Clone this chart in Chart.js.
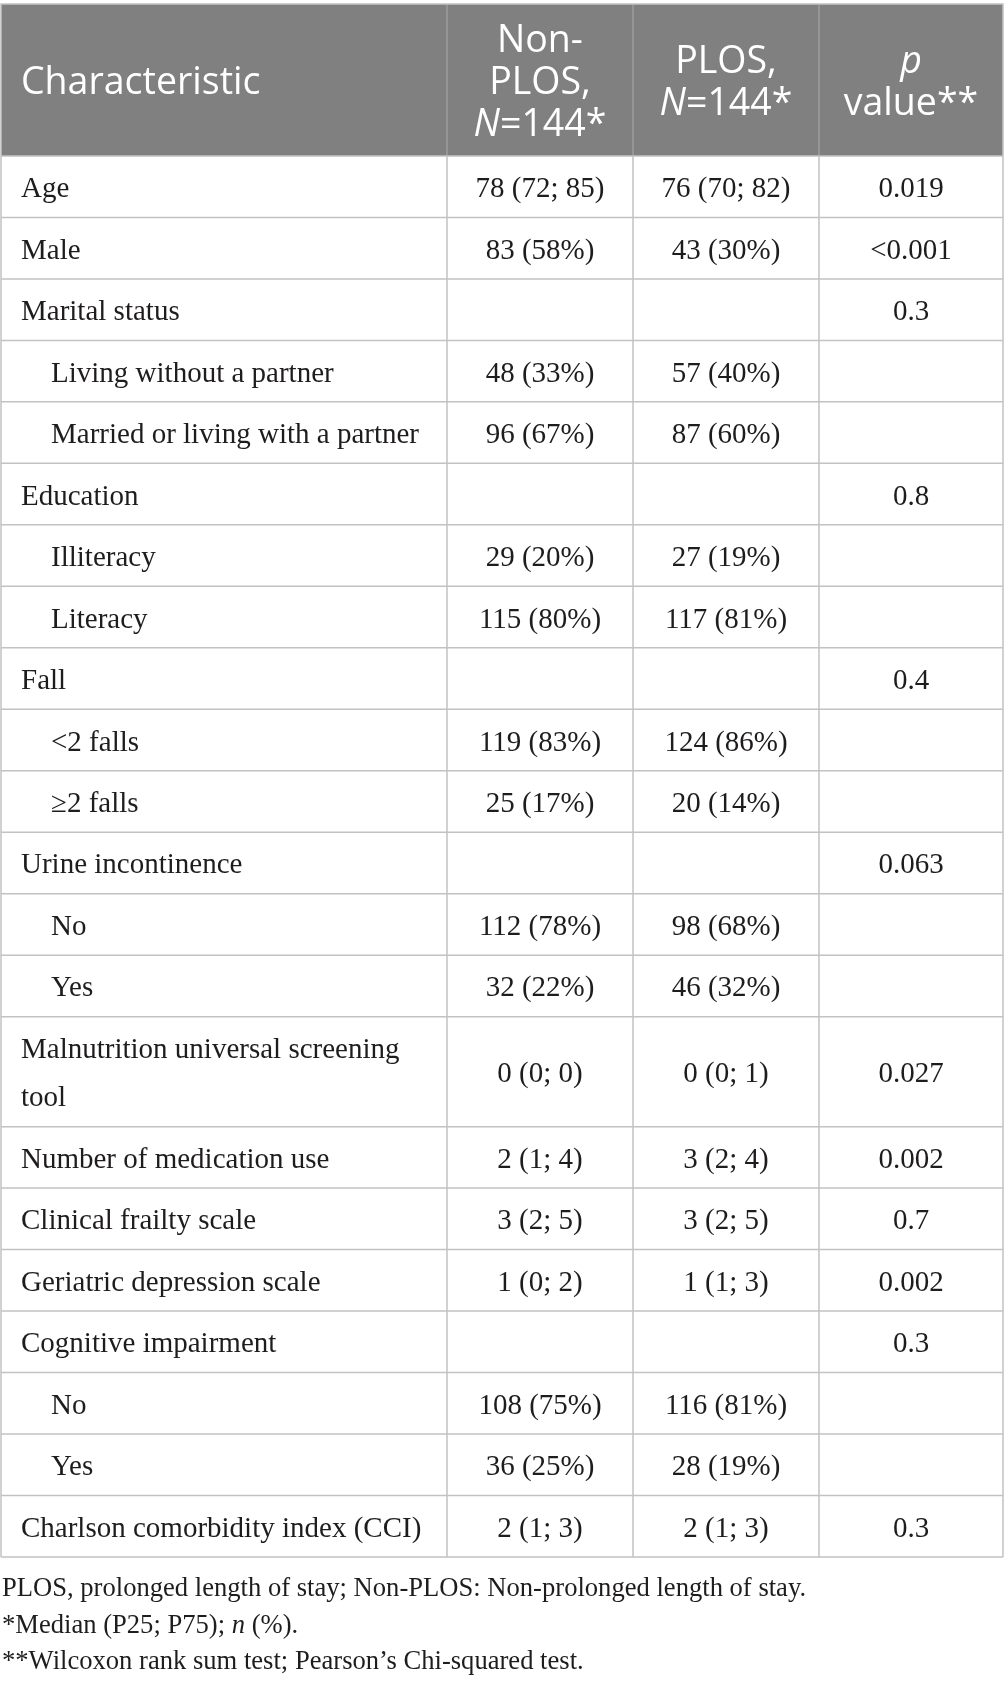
<!DOCTYPE html>
<html>
<head>
<meta charset="utf-8">
<title>PLOS vs Non-PLOS characteristics</title>
<script src="https://cdn.jsdelivr.net/npm/chart.js@4.4.1/dist/chart.umd.min.js"></script>
<style>
  html, body { margin: 0; padding: 0; background: #fff; }
  canvas { display: block; }
</style>
</head>
<body>
<canvas id="table" width="1005" height="1686"></canvas>
<script>
// ---- table content ----
const characteristics = [
  "Age", "Male", "Marital status", "Living without a partner", "Married or living with a partner",
  "Education", "Illiteracy", "Literacy", "Fall", "<2 falls", "\u22652 falls",
  "Urine incontinence", "No", "Yes", "Malnutrition universal screening tool",
  "Number of medication use", "Clinical frailty scale", "Geriatric depression scale",
  "Cognitive impairment", "No", "Yes", "Charlson comorbidity index (CCI)"
];
// 0 = variable, 1 = level of the variable above
const level = [0, 0, 0, 1, 1, 0, 1, 1, 0, 1, 1, 0, 1, 1, 0, 0, 0, 0, 0, 1, 1, 0];
const nonPlos = [
  "78 (72; 85)", "83 (58%)", "", "48 (33%)", "96 (67%)", "", "29 (20%)", "115 (80%)", "",
  "119 (83%)", "25 (17%)", "", "112 (78%)", "32 (22%)", "0 (0; 0)", "2 (1; 4)", "3 (2; 5)",
  "1 (0; 2)", "", "108 (75%)", "36 (25%)", "2 (1; 3)"
];
const plos = [
  "76 (70; 82)", "43 (30%)", "", "57 (40%)", "87 (60%)", "", "27 (19%)", "117 (81%)", "",
  "124 (86%)", "20 (14%)", "", "98 (68%)", "46 (32%)", "0 (0; 1)", "3 (2; 4)", "3 (2; 5)",
  "1 (1; 3)", "", "116 (81%)", "28 (19%)", "2 (1; 3)"
];
const pValues = [
  "0.019", "<0.001", "0.3", "", "", "0.8", "", "", "0.4", "", "", "0.063", "", "",
  "0.027", "0.002", "0.7", "0.002", "0.3", "", "", "0.3"
];
// header lines, _x_ = italic
const headerCells = [
  ["Characteristic"],
  ["Non-", "PLOS,", "_N_=144*"],
  ["PLOS,", "_N_=144*"],
  ["_p_", "value**"]
];
const footnotes = [
  "PLOS, prolonged length of stay; Non-PLOS: Non-prolonged length of stay.",
  "*Median (P25; P75); _n_ (%).",
  "**Wilcoxon rank sum test; Pearson\u2019s Chi-squared test."
];

// ---- layout ----
const COL_WEIGHTS = [446, 186, 186, 184];
const ROW_PX = 61.5;
const HEADER_UNITS = 152 / ROW_PX;
const LINE_UNITS = 48.5 / ROW_PX;      // extra height per wrapped line
const BODY_FONT = '29px "Liberation Serif"';
const BODY_ITALIC = 'italic 29px "Liberation Serif"';
const HEAD_FONT = '37.5px "Open Sans"';
const HEAD_ITALIC = 'italic 37.5px "Open Sans"';
const NOTE_FONT = '26.6px "Liberation Serif"';
const NOTE_ITALIC = 'italic 26.6px "Liberation Serif"';
const TEXT = '#1f1c1d';

const totalW = COL_WEIGHTS.reduce((a, b) => a + b, 0);
const colEdges = COL_WEIGHTS.reduce((acc, w) => { acc.push(acc[acc.length - 1] + w / totalW); return acc; }, [0]);

// wrap first column text to the column width
const measure = document.createElement('canvas').getContext('2d');
measure.font = BODY_FONT;
function wrap(text, maxW) {
  const words = text.split(' ');
  const lines = [];
  let cur = '';
  words.forEach((w) => {
    const t = cur ? cur + ' ' + w : w;
    if (cur && measure.measureText(t).width > maxW) { lines.push(cur); cur = w; } else { cur = t; }
  });
  lines.push(cur);
  return lines;
}
const labelLines = characteristics.map((c, i) => wrap(c, COL_WEIGHTS[0] - (level[i] ? 50 : 20) - 12));
const rowUnits = labelLines.map((l) => 1 + (l.length - 1) * LINE_UNITS);
const rowStart = rowUnits.reduce((acc, u) => { acc.push(acc[acc.length - 1] + u); return acc; }, [0]);
const bodyUnits = rowStart[rowStart.length - 1];

function drawRich(ctx, text, x, y, align, font, italic) {
  const segs = text.split('_');
  let w = 0;
  segs.forEach((s, k) => { ctx.font = k % 2 ? italic : font; w += ctx.measureText(s).width; });
  let cx = align === 'center' ? x - w / 2 : x;
  ctx.textAlign = 'left';
  segs.forEach((s, k) => {
    ctx.font = k % 2 ? italic : font;
    ctx.fillText(s, cx, y);
    cx += ctx.measureText(s).width;
  });
}

const tablePlugin = {
  id: 'tableCells',
  afterDraw(chart) {
    const { ctx, scales: { x, y } } = chart;
    const cx = colEdges.map((v) => x.getPixelForValue(v));
    const yTop = y.getPixelForValue(-HEADER_UNITS);
    const y0 = y.getPixelForValue(0);
    const yBottom = y.getPixelForValue(bodyUnits);
    ctx.save();
    ctx.textBaseline = 'alphabetic';

    // header
    ctx.fillStyle = '#808080';
    ctx.fillRect(cx[0], yTop, cx[4] - cx[0], y0 - yTop);
    ctx.strokeStyle = '#9d9d9d';
    ctx.lineWidth = 1.5;
    for (let c = 1; c < 4; c++) {
      ctx.beginPath(); ctx.moveTo(cx[c], yTop); ctx.lineTo(cx[c], y0); ctx.stroke();
    }
    ctx.fillStyle = '#fff';
    const hMid = (yTop + y0) / 2;
    headerCells.forEach((lines, c) => {
      lines.forEach((ln, j) => {
        const by = hMid + 14.5 + (j - (lines.length - 1) / 2) * 42;
        if (c === 0) drawRich(ctx, ln, cx[0] + 20, by, 'left', HEAD_FONT, HEAD_ITALIC);
        else drawRich(ctx, ln, (cx[c] + cx[c + 1]) / 2, by, 'center', HEAD_FONT, HEAD_ITALIC);
      });
    });

    // body grid
    ctx.strokeStyle = '#c2c2c2';
    ctx.lineWidth = 1.5;
    rowStart.forEach((v) => {
      const py = y.getPixelForValue(v);
      ctx.beginPath(); ctx.moveTo(cx[0], py); ctx.lineTo(cx[4], py); ctx.stroke();
    });
    cx.forEach((px) => {
      ctx.beginPath(); ctx.moveTo(px, y0); ctx.lineTo(px, yBottom); ctx.stroke();
    });
    // outer border of the header
    ctx.beginPath();
    ctx.moveTo(cx[0], y0); ctx.lineTo(cx[0], yTop); ctx.lineTo(cx[4], yTop); ctx.lineTo(cx[4], y0);
    ctx.stroke();

    // body text
    ctx.fillStyle = TEXT;
    characteristics.forEach((_, i) => {
      const mid = (y.getPixelForValue(rowStart[i]) + y.getPixelForValue(rowStart[i + 1])) / 2;
      const lines = labelLines[i];
      lines.forEach((ln, j) => {
        const by = mid + 10.5 + (j - (lines.length - 1) / 2) * 48.5;
        drawRich(ctx, ln, cx[0] + (level[i] ? 50 : 20), by, 'left', BODY_FONT, BODY_ITALIC);
      });
      [nonPlos[i], plos[i], pValues[i]].forEach((v, k) => {
        if (v) drawRich(ctx, v, (cx[k + 1] + cx[k + 2]) / 2, mid + 10.5, 'center', BODY_FONT, BODY_ITALIC);
      });
    });

    // footnotes
    footnotes.forEach((f, j) => {
      drawRich(ctx, f, cx[0] + 1, yBottom + 39 + j * 36.5, 'left', NOTE_FONT, NOTE_ITALIC);
    });
    ctx.restore();
  }
};

new Chart(document.getElementById('table'), {
  type: 'scatter',
  data: { datasets: [] },
  options: {
    responsive: false,
    animation: false,
    events: [],
    layout: { padding: { left: 1, right: 2, top: 4, bottom: 129 } },
    plugins: { legend: { display: false }, tooltip: { enabled: false } },
    scales: {
      x: { type: 'linear', display: false, min: 0, max: 1 },
      y: { type: 'linear', display: false, reverse: true, min: -HEADER_UNITS, max: bodyUnits }
    }
  },
  plugins: [tablePlugin]
});
</script>
</body>
</html>
